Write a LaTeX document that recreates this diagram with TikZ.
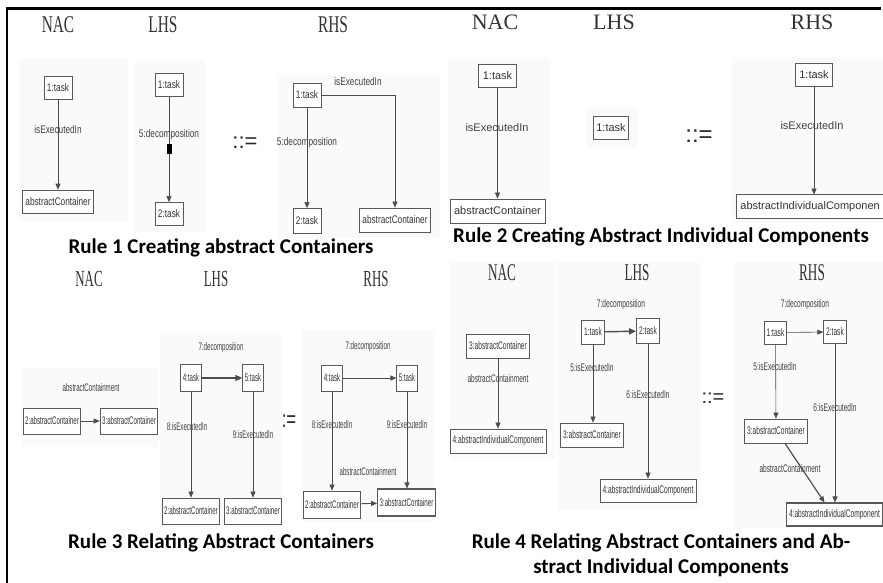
\documentclass[tikz,border=0pt]{standalone}
\usepackage{fontspec}
\setmainfont{Liberation Serif}
\newfontfamily\lsans{Liberation Sans}
\newfontfamily\capfont{Carlito}
\usepackage{graphicx}
\usetikzlibrary{arrows.meta,calc}
\newcommand\sq[2]{\scalebox{#1}[1]{#2}}
\newcommand\ta[1]{\sq{0.75}{#1}}
\newcommand\tc[1]{\sq{0.56}{#1}}
\newcommand\td[1]{\sq{0.6}{#1}}
\begin{document}
\begin{tikzpicture}[x=1pt,y=-1pt,
  panel/.style={fill=black!2, draw=none},
  box/.style={draw=black!65, line width=0.8pt, fill=white, inner ysep=0pt, inner xsep=3pt,
    minimum height=23pt, text=black!80, font=\lsans\fontsize{11}{12}\selectfont},
  tbox/.style={box, line width=1.6pt},
  lbl/.style={text=black!75, inner sep=0pt, font=\lsans\fontsize{11}{12}\selectfont},
  ar/.style={draw=black!70, line width=0.6pt, -{Triangle[width=5pt,length=6pt]}},
  tar/.style={ar, line width=1.4pt, -{Triangle[width=6pt,length=7pt]}},
  ln/.style={draw=black!70, line width=0.6pt},
  hdr/.style={text=black!80, inner sep=0pt},
  eqs/.style={text=black!85, inner sep=0pt, font=\lsans\fontsize{22}{22}\selectfont},
  captxt/.style={text=black, inner sep=0pt, align=center, font=\capfont\bfseries\fontsize{21}{25}\selectfont},
  framestyle/.style={draw=black, line width=2.5pt}
]
\useasboundingbox (0,0) rectangle (883,583);
\fill[white] (0,0) rectangle (883,583);
% frame (top and left only)
\draw[framestyle] (7,583) -- (7,8.5) -- (881,8.5);

% ---------- background panels ----------
\fill[panel] (20,58) rectangle (128,222);
\fill[panel] (135,60) rectangle (205,232);
\fill[panel] (278,75) rectangle (440,238);
\fill[panel] (448,57) rectangle (551,223);
\fill[panel] (587,107) rectangle (637,147);
\fill[panel] (732,57) rectangle (883,223);
\fill[panel] (22,368) rectangle (158,447);
\fill[panel] (160,333) rectangle (282,527);
\fill[panel] (302,330) rectangle (435,522);
\fill[panel] (450,262) rectangle (555,460);
\fill[panel] (558,262) rectangle (700,510);
\fill[panel] (735,262) rectangle (883,528);

% ================= Rule 1 =================
\node[hdr, font=\fontsize{24}{24}\selectfont] (r1h1) at (58,25) {\sq{0.64}{NAC}};
\node[hdr, font=\fontsize{24}{24}\selectfont] (r1h2) at (163,25) {\sq{0.64}{LHS}};
\node[hdr, font=\fontsize{24}{24}\selectfont] (r1h3) at (333,25) {\sq{0.64}{RHS}};
% NAC
\node[box] (r1n1) at (58,88) {\ta{1:task}};
\node[tbox] (r1n2) at (58,202) {\ta{abstractContainer}};
\draw[ar] (r1n1) -- (r1n2);
\node[lbl] (r1nl) at (58,130) {\ta{isExecutedIn}};
% LHS
\node[box] (r1l1) at (169,85) {\ta{1:task}};
\node[fill=black, inner sep=0pt, minimum width=5pt, minimum height=10pt] (r1lm) at (169,149) {};
\node[box] (r1l2) at (169,214) {\ta{2:task}};
\draw[ln] (r1l1) -- (r1lm);
\draw[ar] (r1lm) -- (r1l2);
\node[lbl] (r1ll) at (169,135) {\ta{5:decomposition}};
% ::=
\node[eqs] (r1eq) at (245,143) {::=};
% RHS
\node[box, minimum height=24pt] (r1r1) at (307,95) {\ta{1:task}};
\node[box, minimum height=25pt] (r1r2) at (307,221) {\ta{2:task}};
\node[box, minimum height=24pt] (r1r3) at (395,220) {\ta{abstractContainer}};
\draw[ar] (r1r1) -- (r1r2);
\draw[ar] (r1r1.east) -| (r1r3.north);
\node[lbl] (r1rl1) at (358,82) {\ta{isExecutedIn}};
\node[lbl] (r1rl2) at (307,143) {\ta{5:decomposition}};
\node[captxt] (r1cap) at (221,248) {Rule 1 Creating abstract Containers};

% ================= Rule 2 =================
\node[hdr, font=\fontsize{22}{22}\selectfont] (r2h1) at (495,22.5) {NAC};
\node[hdr, font=\fontsize{22}{22}\selectfont] (r2h2) at (614,22.5) {LHS};
\node[hdr, font=\fontsize{22}{22}\selectfont] (r2h3) at (812,22.5) {RHS};
% NAC
\node[box, inner xsep=4pt] (r2n1) at (497.5,76) {1:task};
\node[box, inner xsep=4pt, minimum height=24pt] (r2n2) at (497.5,211) {abstractContainer};
\draw[ar] (r2n1) -- (r2n2);
\node[lbl] (r2nl) at (497,128) {isExecutedIn};
% LHS
\node[tbox, inner xsep=3pt] (r2l1) at (611,128) {1:task};
% ::=
\node[eqs, font=\lsans\fontsize{24}{24}\selectfont] (r2eq) at (699,136) {::=};
% RHS
\node[box, inner xsep=4pt] (r2r1) at (814,75) {1:task};
\node[box, draw=none, fill=white, anchor=west, inner xsep=4pt] (r2r2) at (736,206.5) {abstractIndividualComponen};
\draw[draw=black!65, line width=0.8pt] ($(r2r2.north west)+(147,0)$) -- (r2r2.north west) -- (r2r2.south west) -- ++(147,0);
\draw[ar] (r2r1.south) -- (r2r1.south |- r2r2.north);
\node[lbl] (r2rl) at (812,126) {isExecutedIn};
\node[captxt] (r2cap) at (661,237) {Rule 2 Creating Abstract Individual Components};

% ================= Rule 3 =================
\node[hdr, font=\fontsize{23}{23}\selectfont] (r3h1) at (89,279) {\sq{0.56}{NAC}};
\node[hdr, font=\fontsize{23}{23}\selectfont] (r3h2) at (216,279) {\sq{0.56}{LHS}};
\node[hdr, font=\fontsize{23}{23}\selectfont] (r3h3) at (376,279) {\sq{0.56}{RHS}};
% NAC
\node[box, inner xsep=2pt, minimum height=26pt] (r3n1) at (52,421) {\tc{2:abstractContainer}};
\node[box, inner xsep=2pt, minimum height=26pt] (r3n2) at (129,421) {\tc{3:abstractContainer}};
\draw[ar] (r3n1) -- (r3n2);
\node[lbl] (r3nl) at (91,388) {\tc{abstractContainment}};
% LHS
\node[box, inner xsep=2pt, minimum height=27pt] (r3l1) at (191,378) {\tc{4:task}};
\node[box, inner xsep=2pt, minimum height=27pt] (r3l2) at (253,378) {\tc{5:task}};
\node[box, inner xsep=2pt, minimum height=26pt] (r3l3) at (191,511) {\tc{2:abstractContainer}};
\node[box, inner xsep=2pt, minimum height=26pt] (r3l4) at (253,511) {\tc{3:abstractContainer}};
\draw[tar] (r3l1) -- (r3l2);
\draw[ar] (r3l1) -- (r3l3);
\draw[ar] (r3l2) -- (r3l4);
\node[lbl] (r3ll1) at (221,348) {\tc{7:decomposition}};
\node[lbl] (r3ll2) at (187,427) {\tc{8:isExecutedIn}};
\node[lbl] (r3ll3) at (253,435) {\tc{9:isExecutedIn}};
% :=
\node[eqs, font=\lsans\fontsize{24}{24}\selectfont] (r3eq) at (289,421) {\sq{0.7}{:=}};
% RHS
\node[box, inner xsep=2pt, minimum height=26pt] (r3r1) at (332,378) {\tc{4:task}};
\node[box, inner xsep=2pt, minimum height=26pt] (r3r2) at (407,378) {\tc{5:task}};
\node[box, inner xsep=2pt, minimum height=27pt] (r3r3) at (332,504.5) {\tc{2:abstractContainer}};
\node[tbox, line width=1.1pt, inner xsep=2pt, minimum height=27pt] (r3r4) at (406.5,502.5) {\tc{3:abstractContainer}};
\draw[ar, line width=0.9pt] (r3r1) -- (r3r2);
\draw[ar] (r3r1) -- (r3r3);
\draw[ar] (r3r2.south) -- (r3r2.south |- r3r4.north);
\draw[ar, line width=0.9pt] (r3r3) -- (r3r4);
\node[lbl] (r3rl1) at (368,347) {\tc{7:decomposition}};
\node[lbl] (r3rl2) at (332,425) {\tc{8:isExecutedIn}};
\node[lbl] (r3rl3) at (407,425) {\tc{9:isExecutedIn}};
\node[lbl] (r3rl4) at (368,472) {\tc{abstractContainment}};
\node[captxt] (r3cap) at (221,543) {Rule 3 Relating Abstract Containers};

% ================= Rule 4 =================
\node[hdr, font=\fontsize{24}{24}\selectfont] (r4h1) at (502,273) {\sq{0.55}{NAC}};
\node[hdr, font=\fontsize{24}{24}\selectfont] (r4h2) at (637,273) {\sq{0.55}{LHS}};
\node[hdr, font=\fontsize{24}{24}\selectfont] (r4h3) at (812,273) {\sq{0.55}{RHS}};
% NAC
\node[box, inner xsep=2.5pt, minimum height=24pt] (r4n1) at (498,346) {\td{3:abstractContainer}};
\node[box, inner xsep=2.5pt, minimum height=24pt] (r4n2) at (498,441) {\td{4:abstractIndividualComponent}};
\draw[ar] (r4n1) -- (r4n2);
\node[lbl] (r4nl) at (498,379) {\td{abstractContainment}};
% LHS
\node[box, inner xsep=2.5pt, minimum height=24pt] (r4l1) at (593,332) {\td{1:task}};
\node[tbox, line width=1.2pt, inner xsep=2.5pt, minimum height=25pt] (r4l2) at (648,331) {\td{2:task}};
\node[box, inner xsep=2.5pt, minimum height=24pt] (r4l3) at (592,435) {\td{3:abstractContainer}};
\node[box, inner xsep=2.5pt, minimum height=23pt] (r4l4) at (648,490.5) {\td{4:abstractIndividualComponent}};
\draw[tar] (r4l1) -- (r4l2);
\draw[ar] (r4l1.south) -- (r4l1.south |- r4l3.north);
\draw[ar] (r4l2) -- (r4l4);
\node[lbl] (r4ll1) at (621,305) {\td{7:decomposition}};
\node[lbl] (r4ll2) at (592,368) {\td{5:isExecutedIn}};
\node[lbl] (r4ll3) at (648,395) {\td{6:isExecutedIn}};
% ::=
\node[eqs, font=\lsans\fontsize{20}{20}\selectfont] (r4eq) at (713,398) {::=};
% RHS
\node[box, inner xsep=2.5pt, minimum height=23pt] (r4r1) at (775.5,332.5) {\td{1:task}};
\node[box, inner xsep=2.5pt, minimum height=23pt] (r4r2) at (835,332) {\td{2:task}};
\node[box, inner xsep=2.5pt, minimum height=24pt] (r4r3) at (776,431) {\td{3:abstractContainer}};
\node[tbox, line width=1.1pt, inner xsep=2.5pt, minimum height=23pt] (r4r4) at (834.5,514.5) {\td{4:abstractIndividualComponent}};
\draw[ar] (r4r1) -- (r4r2);
\draw[ar] (r4r1) -- (r4r3);
\draw[ar] (r4r2) -- (r4r2 |- r4r4.north);
\draw[ar, line width=1.2pt] ($(r4r3.south)+(9,0)$) -- ($(r4r4.north)+(-10,0)$);
\node[lbl] (r4rl1) at (805,305) {\td{7:decomposition}};
\node[lbl] (r4rl2) at (775,367) {\td{5:isExecutedIn}};
\node[lbl] (r4rl3) at (835,408) {\td{6:isExecutedIn}};
\node[lbl] (r4rl4) at (790,469) {\td{abstractContainment}};
\node[captxt] (r4cap) at (661,555.5) {Rule 4 Relating Abstract Containers and Ab-\\stract Individual Components};
\end{tikzpicture}
\end{document}
